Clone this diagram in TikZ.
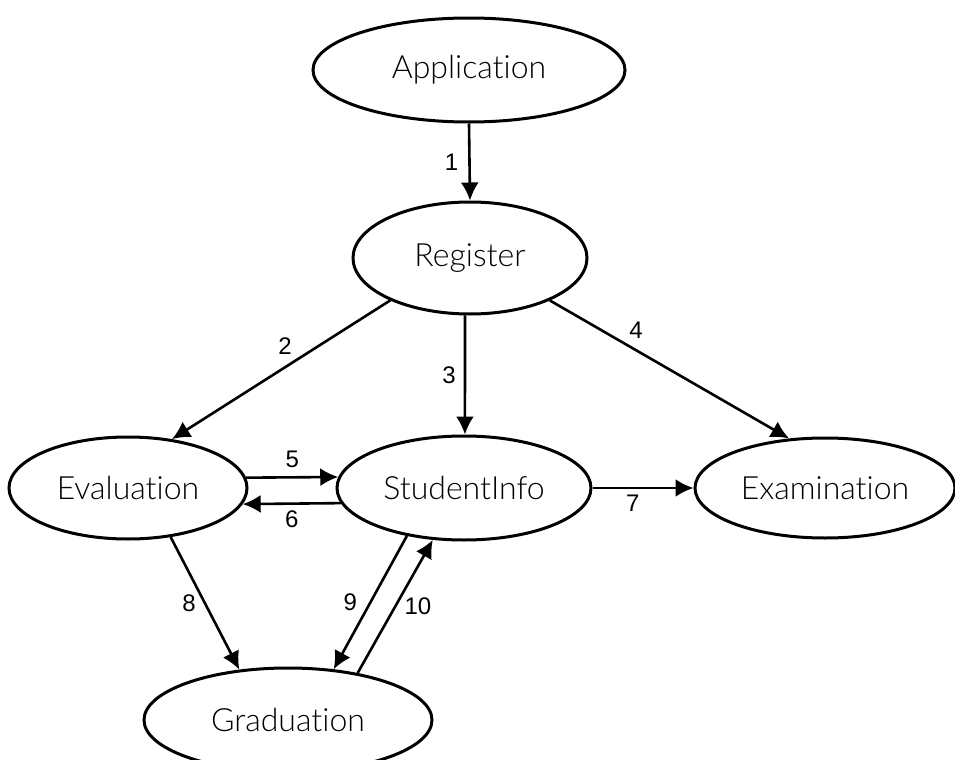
\documentclass[tikz,border=0pt]{standalone}
\usepackage{fontspec}
\IfFontExistsTF{Lato Light}{\setmainfont[Ligatures={NoCommon}]{Lato Light}}{\setmainfont{Open Sans}}
\newfontfamily\numfont{Liberation Sans}
\usepackage{tikz}
\usetikzlibrary{shapes.geometric}
\usetikzlibrary{arrows.meta}
\tikzset{>={Latex[length=9pt,width=9pt]}}
\tikzstyle{proc}=[ellipse,draw=black,line width=1.5pt,inner sep=0,font=\fontsize{16}{18}\selectfont]
\tikzstyle{flow}=[->,line width=1.3pt]
\tikzstyle{lbl}=[font=\numfont\fontsize{12}{14}\selectfont,inner sep=2pt]
\begin{document}
\begin{tikzpicture}[x=0.5pt,y=-0.5pt]
 \useasboundingbox (0,0) rectangle (955,760);
 \node[proc,minimum width=156pt,minimum height=52pt] (app) at (469,70) {Application};
 \node[proc,minimum width=117pt,minimum height=56pt] (reg) at (470,258) {Register};
 \node[proc,minimum width=119pt,minimum height=51pt] (ev) at (128,488) {Evaluation};
 \node[proc,minimum width=127pt,minimum height=52pt] (si) at (464,488) {StudentInfo};
 \node[proc,minimum width=130pt,minimum height=50pt] (ex) at (825,488) {Examination};
 \node[proc,minimum width=144pt,minimum height=52pt] (gr) at (288,720) {Graduation};
 %
 \draw[flow] (app.south) -- (reg.north) node[lbl,midway,left=3pt]{1};
 \draw[flow] (reg.208) -- (ev.48) node[lbl,midway,above=5pt,xshift=2pt]{2};
 \draw[flow] (reg.265) -- (si.89) node[lbl,midway,left=2pt]{3};
 \draw[flow] (reg.-28) -- (ex.126) node[lbl,pos=0.36,above=3pt]{4};
 \draw[flow] (ev.5) -- (si.175) node[lbl,midway,above=2pt]{5};
 \draw[flow] (si.187) -- (ev.-8) node[lbl,midway,below=1pt]{6};
 \draw[flow] (si.east) -- (ex.west) node[lbl,pos=0.4,below=1pt]{7};
 \draw[flow] (ev.-49) -- (gr.134) node[lbl,midway,left=2pt]{8};
 \draw[flow] (si.220) -- (gr.48) node[lbl,midway,left=4pt]{9};
 \draw[flow] (gr.34) -- (si.239) node[lbl,midway,right=2pt]{10};
\end{tikzpicture}
\end{document}
